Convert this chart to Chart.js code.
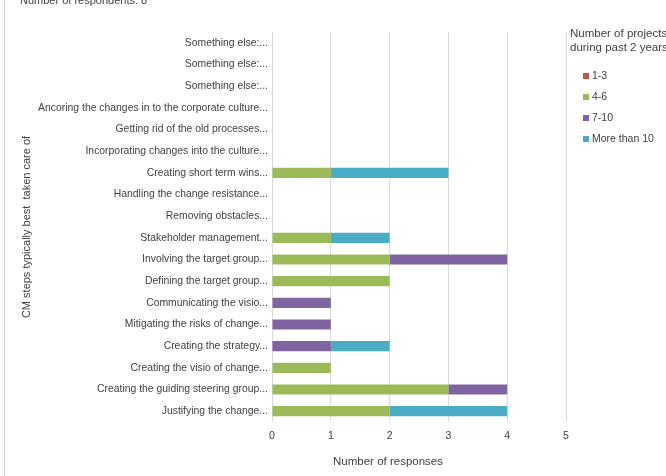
<!DOCTYPE html>
<html>
<head>
<meta charset="utf-8">
<script src="https://cdn.jsdelivr.net/npm/chart.js@4/dist/chart.umd.min.js"></script>
<style>
html,body{margin:0;padding:0;background:#fff;}
#wrap{position:relative;width:666px;height:476px;}
</style>
</head>
<body>
<div id="wrap"><canvas id="c" width="666" height="476"></canvas></div>
<script>
const categories = [
  "Something else:...",
  "Something else:...",
  "Something else:...",
  "Ancoring the changes in to the corporate culture...",
  "Getting rid of the old processes...",
  "Incorporating changes into the culture...",
  "Creating short term wins...",
  "Handling the change resistance...",
  "Removing obstacles...",
  "Stakeholder management...",
  "Involving the target group...",
  "Defining the target group...",
  "Communicating the visio...",
  "Mitigating the risks of change...",
  "Creating the strategy...",
  "Creating the visio of change...",
  "Creating the guiding steering group...",
  "Justifying the change..."
];
const seriesNames = ["1-3", "4-6", "7-10", "More than 10"];
const s1to3    = [0,0,0,0,0,0,0,0,0,0,0,0,0,0,0,0,0,0];
const s4to6    = [0,0,0,0,0,0,1,0,0,1,2,2,0,0,0,1,3,2];
const s7to10   = [0,0,0,0,0,0,0,0,0,0,2,0,1,1,1,0,1,0];
const sMore10  = [0,0,0,0,0,0,2,0,0,1,0,0,0,0,1,0,0,2];
const xTicks = [0,1,2,3,4,5];
const topText = "Number of respondents: 8";
const legendTitle = ["Number of projects", "during past 2 years"];
const xTitle = "Number of responses";
const yTitle = "CM steps typically best  taken care of";

const colors = ["#C0504D", "#9BBB59", "#8064A2", "#4BACC6"];
const FONT = "'Liberation Sans', Arial, sans-serif";
const TXT = "#404040";

const extras = {
  id: 'extras',
  afterDraw(chart) {
    const ctx = chart.ctx;
    ctx.save();
    ctx.strokeStyle = "#d9d9d9";
    ctx.lineWidth = 1.5;
    ctx.beginPath(); ctx.moveTo(4.5, 0); ctx.lineTo(4.5, 476); ctx.stroke();
    ctx.fillStyle = TXT;
    ctx.font = "11px " + FONT;
    ctx.textBaseline = "alphabetic";
    ctx.textAlign = "left";
    ctx.fillText(topText, 20, 4);
    ctx.textAlign = "center";
    ctx.textBaseline = "middle";
    ctx.font = "11.5px " + FONT;
    ctx.fillText(xTitle, 388, 462);
    ctx.textAlign = "left";
    ctx.font = "11.5px " + FONT;
    ctx.fillText(legendTitle[0], 570, 34);
    ctx.fillText(legendTitle[1], 570, 48);
    ctx.font = "10.5px " + FONT;
    const ys = [76, 97, 118, 139];
    chart.data.datasets.forEach((ds, i) => {
      ctx.fillStyle = ds.backgroundColor;
      ctx.fillRect(583, ys[i] - 3, 6, 6);
      ctx.fillStyle = TXT;
      ctx.fillText(ds.label, 592, ys[i]);
    });
    ctx.restore();
  }
};

new Chart(document.getElementById('c'), {
  type: 'bar',
  data: {
    labels: categories,
    datasets: [
      { label: seriesNames[0], data: s1to3, backgroundColor: colors[0] },
      { label: seriesNames[1], data: s4to6, backgroundColor: colors[1] },
      { label: seriesNames[2], data: s7to10, backgroundColor: colors[2] },
      { label: seriesNames[3], data: sMore10, backgroundColor: colors[3] }
    ]
  },
  options: {
    indexAxis: 'y',
    responsive: false,
    animation: false,
    maintainAspectRatio: false,
    layout: { padding: { left: 16, right: 100, top: 32, bottom: 0 } },
    datasets: { bar: { barPercentage: 0.47, categoryPercentage: 1.0, borderWidth: 0 } },
    plugins: { legend: { display: false }, tooltip: { enabled: false } },
    scales: {
      x: {
        stacked: true,
        min: 0, max: 5,
        afterBuildTicks(scale) { scale.ticks = xTicks.map(v => ({ value: v })); },
        afterFit(scale) { scale.height = 54; },
        grid: { display: true, color: "#d9d9d9", drawTicks: false, lineWidth: 1 },
        border: { display: false },
        ticks: { padding: 8, color: TXT, font: { family: FONT, size: 10.5 } }
      },
      y: {
        stacked: true,
        afterFit(scale) { scale.width = 256; },
        grid: { display: false, drawTicks: false, tickLength: 0 },
        border: { display: false },
        ticks: { padding: 4, color: TXT, font: { family: FONT, size: 10.4 }, autoSkip: false },
        title: { display: true, text: yTitle, color: TXT, font: { family: FONT, size: 11 }, padding: { top: 4, bottom: 0 } }
      }
    }
  },
  plugins: [extras]
});
</script>
</body>
</html>
